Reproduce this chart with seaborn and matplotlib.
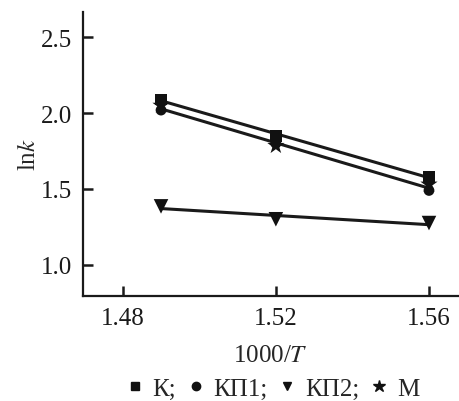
import numpy as np
import pandas as pd
import seaborn as sns
import matplotlib.pyplot as plt
from matplotlib.lines import Line2D

# 1000/T values and ln k for each sample
inv_t = [1.49, 1.52, 1.56]
lnk_k = [2.09, 1.85, 1.58]
lnk_kp1 = [2.02, 1.80, 1.49]
lnk_kp2 = [1.385, 1.30, 1.275]
lnk_m = [2.05, 1.785, 1.53]

series_names = ["К", "КП1", "КП2", "М"]
legend_labels = ["К;", "КП1;", "КП2;", "М"]

df = pd.DataFrame({
    "x": inv_t * 4,
    "y": lnk_k + lnk_kp1 + lnk_kp2 + lnk_m,
    "series": np.repeat(series_names, 3),
})

sns.set_style("ticks")
plt.rcParams["font.family"] = ["Liberation Serif", "DejaVu Serif"]
plt.rcParams["mathtext.fontset"] = "stix"

fig = plt.figure(figsize=(4.59, 4.02), dpi=100)
ax = fig.add_axes([0.1815, 0.262, 0.8165, 0.706])

line_kw = dict(color="#1a1a1a", lw=2.2)
# fitted lines: upper through К, lower through КП1 and М together, bottom through КП2
sns.regplot(data=df[df.series == "К"], x="x", y="y", ci=None, scatter=False,
            line_kws=line_kw, ax=ax)
sns.regplot(data=df[df.series.isin(["КП1", "М"])], x="x", y="y", ci=None,
            scatter=False, line_kws=line_kw, ax=ax)
sns.regplot(data=df[df.series == "КП2"], x="x", y="y", ci=None, scatter=False,
            line_kws=line_kw, ax=ax)

markers = {"К": "s", "КП1": "o", "КП2": "v", "М": "*"}
sizes = {"К": 70, "КП1": 60, "КП2": 110, "М": 170}
for name in series_names:
    sub = df[df.series == name]
    sns.scatterplot(data=sub, x="x", y="y", marker=markers[name], s=sizes[name],
                    color="#111111", edgecolor="none", ax=ax, zorder=3)

ax.set_xlim(1.4697, 1.5676)
ax.set_ylim(0.796, 2.668)
ax.set_xticks([1.48, 1.52, 1.56])
ax.set_xticklabels(["1.48", "1.52", "1.56"])
ax.set_yticks([1.0, 1.5, 2.0, 2.5])
ax.set_yticklabels(["1.0", "1.5", "2.0", "2.5"])
ax.tick_params(direction="in", length=7, width=1.8, labelsize=18, pad=8,
               color="#1a1a1a", labelcolor="#1a1a1a")
for side in ["left", "bottom"]:
    ax.spines[side].set_linewidth(1.6)
    ax.spines[side].set_color("#1a1a1a")
sns.despine(ax=ax)

ax.set_xlabel("1000/$\\mathit{T}$", fontsize=18, labelpad=11)
ax.set_ylabel("ln$\\mathit{k}$", fontsize=18, labelpad=1)

handles = [Line2D([], [], ls="none", marker=markers[n], color="#111111",
                  markersize=6 if n != "М" else 9) for n in series_names]
fig.legend(handles, legend_labels, loc="center", bbox_to_anchor=(0.595, 0.03),
           ncol=4, frameon=False, fontsize=18, handlelength=0.6,
           handletextpad=0.4, columnspacing=0.5, borderaxespad=0)

fig.savefig("out.png", dpi=100)
